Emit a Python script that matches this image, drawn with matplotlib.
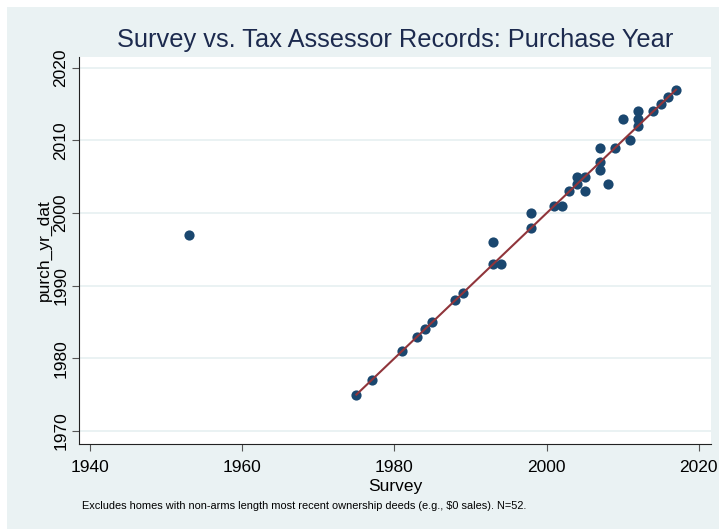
import matplotlib
matplotlib.use("Agg")
import matplotlib.pyplot as plt
from matplotlib.patches import Rectangle

plt.rcParams['font.family'] = ['Liberation Sans', 'DejaVu Sans']

# Purchase year reported in the survey vs. year in tax assessor records
survey_year = [1953, 1975, 1977, 1981, 1983, 1984, 1985, 1988, 1989, 1993,
               1993, 1994, 1998, 1998, 2001, 2002, 2003, 2005, 2004, 2004,
               2005, 2007, 2007, 2007, 2008, 2009, 2010, 2011, 2012, 2012,
               2012, 2014, 2015, 2016, 2017]
assessor_year = [1997, 1975, 1977, 1981, 1983, 1984, 1985, 1988, 1989, 1993,
                 1996, 1993, 1998, 2000, 2001, 2001, 2003, 2003, 2004, 2005,
                 2005, 2006, 2007, 2009, 2004, 2009, 2013, 2010, 2012, 2013,
                 2014, 2014, 2015, 2016, 2017]

# 45-degree reference line
ref_x = [1975, 2017]
ref_y = [1975, 2017]

x_ticks = [1940, 1960, 1980, 2000, 2020]
y_ticks = [1970, 1980, 1990, 2000, 2010, 2020]

title = "Survey vs. Tax Assessor Records: Purchase Year"
x_label = "Survey"
y_label = "purch_yr_dat"
note = "Excludes homes with non-arms length most recent ownership deeds (e.g., $0 sales). N=52."

W, H = 719, 529
fig = plt.figure(figsize=(W / 100, H / 100), dpi=100, facecolor="white")

bg = "#EAF2F3"
fig.patches.append(Rectangle((7 / W, 0), 1 - 7 / W, 1 - 7 / H,
                             transform=fig.transFigure, facecolor=bg,
                             edgecolor="none", zorder=-10))

left, right, top, bottom = 79, 711, 57, 444
ax_w, ax_h = right - left, bottom - top
ax = fig.add_axes([left / W, (H - bottom) / H, ax_w / W, ax_h / H])
ax.set_facecolor("white")

ax.set_xlim(1938.55, 2021.6)
ax.set_ylim(1968.2, 2021.5)

ax.set_xticks(x_ticks)
ax.set_yticks(y_ticks)
ax.set_xticklabels([str(t) for t in x_ticks], fontsize=12.5)
ax.set_yticklabels([str(t) for t in y_ticks], fontsize=12.5, rotation=90, va="center")

ax.grid(axis="y", color=bg, linewidth=1.4)
ax.set_axisbelow(True)

for side in ("top", "right"):
    ax.spines[side].set_visible(False)
for side in ("left", "bottom"):
    ax.spines[side].set_color("#222222")
    ax.spines[side].set_linewidth(0.8)

ax.tick_params(axis="both", direction="out", length=5, width=0.8,
               color="#555555", labelcolor="black")
ax.tick_params(axis="x", pad=6.5)
ax.tick_params(axis="y", pad=2.5)

ax.scatter(survey_year, assessor_year, s=54, color="#1A476F", zorder=3,
           linewidths=0)
ax.plot(ref_x, ref_y, color="#90353B", linewidth=1.5, zorder=4)

ax.set_xlabel(x_label, fontsize=12.5)
ax.xaxis.set_label_coords(0.5, -(486 - bottom) / ax_h)
ax.xaxis.label.set_va("center")
ax.set_ylabel(y_label, fontsize=12.5)
ax.yaxis.set_label_coords(-(left - 44) / ax_w, 0.5)
ax.yaxis.label.set_va("center")

fig.text(((left + right) / 2) / W, 1 - 40 / H, title, fontsize=18.3,
         color="#1C2A4E", ha="center", va="center")
fig.text(82 / W, 1 - 506 / H, note, fontsize=7.9, color="black",
         ha="left", va="center")

fig.savefig("out.png", dpi=100, facecolor=fig.get_facecolor())
